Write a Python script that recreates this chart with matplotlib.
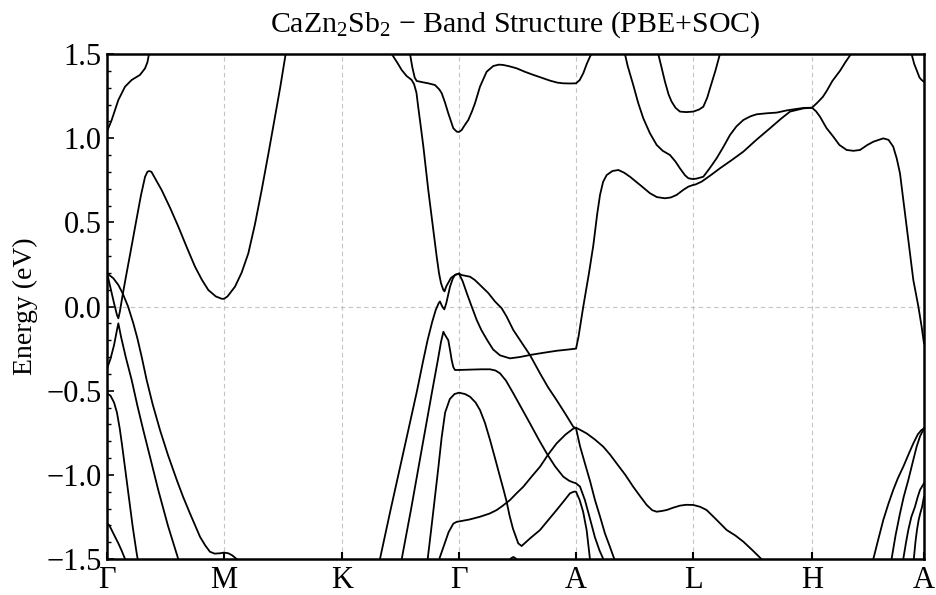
import matplotlib
matplotlib.use("Agg")
import numpy as np
import matplotlib.pyplot as plt
from matplotlib.ticker import MultipleLocator

# high-symmetry path
kpath_labels = ["Γ", "M", "K", "Γ", "A", "L", "H", "A"]
kpath_pos = [0.0, 1.0, 2.009, 3.009, 4.009, 5.009, 6.026, 6.983]

# bands, (k, E [eV])
band_gm_upper = [(0.0, 1.04), (0.006, 1.05), (0.04, 1.108), (0.097, 1.227), (0.154, 1.306),
                 (0.211, 1.346), (0.282, 1.376), (0.325, 1.415), (0.345, 1.45), (0.359, 1.5)]

band_gm_cb = [(0.0, 0.20), (0.03, 0.11), (0.06, 0.02), (0.085, -0.05), (0.097, -0.07),
              (0.11, -0.03), (0.134, 0.07), (0.16, 0.17), (0.2, 0.32), (0.25, 0.51),
              (0.29, 0.66), (0.325, 0.77), (0.345, 0.80), (0.36, 0.805), (0.38, 0.80),
              (0.42, 0.75), (0.467, 0.692), (0.54, 0.585), (0.61, 0.474), (0.68, 0.355),
              (0.752, 0.237), (0.81, 0.16), (0.866, 0.098), (0.93, 0.06), (0.98, 0.046),
              (1.0, 0.046), (1.03, 0.06), (1.094, 0.118), (1.15, 0.20), (1.208, 0.316),
              (1.265, 0.49), (1.322, 0.692), (1.38, 0.91), (1.436, 1.128), (1.48, 1.30),
              (1.527, 1.5)]

band_gm_hh = [(0.0, 0.197), (0.054, 0.168), (0.097, 0.128), (0.134, 0.078), (0.18, 0.0),
              (0.225, -0.10), (0.26, -0.19), (0.296, -0.298), (0.339, -0.437), (0.39, -0.58),
              (0.453, -0.734), (0.52, -0.88), (0.596, -1.03), (0.65, -1.13), (0.709, -1.229),
              (0.795, -1.368), (0.84, -1.42), (0.88, -1.457), (0.92, -1.468), (0.966, -1.466),
              (1.0, -1.462), (1.037, -1.466), (1.07, -1.478), (1.108, -1.5)]

band_gm_inv = [(0.0, -0.37), (0.03, -0.31), (0.06, -0.23), (0.085, -0.14), (0.097, -0.10),
               (0.12, -0.18), (0.16, -0.30), (0.211, -0.437), (0.26, -0.59), (0.31, -0.734),
               (0.37, -0.90), (0.438, -1.09), (0.52, -1.30), (0.609, -1.5)]

band_gm_so = [(0.0, -0.516), (0.03, -0.53), (0.06, -0.57), (0.085, -0.63), (0.11, -0.73),
              (0.13, -0.83), (0.16, -0.99), (0.19, -1.15), (0.22, -1.31), (0.25, -1.45),
              (0.262, -1.5)]

band_gm_low = [(0.0, -1.288), (0.02, -1.30), (0.04, -1.328), (0.07, -1.37), (0.097, -1.407),
               (0.125, -1.45), (0.154, -1.5)]

band_kg_cb1 = [(2.434, 1.5), (2.48, 1.45), (2.519, 1.405), (2.56, 1.37), (2.604, 1.346),
               (2.625, 1.32), (2.645, 1.27), (2.661, 1.18), (2.68, 1.08), (2.704, 0.95),
               (2.746, 0.692), (2.789, 0.455), (2.818, 0.296), (2.838, 0.197), (2.855, 0.138),
               (2.875, 0.098), (2.885, 0.09), (2.90, 0.12), (2.94, 0.17), (2.98, 0.19),
               (3.009, 0.195)]

band_kg_vb1 = [(2.333, -1.5), (2.42, -1.22), (2.5, -0.97), (2.58, -0.72), (2.65, -0.5),
               (2.70, -0.33), (2.74, -0.20), (2.78, -0.09), (2.81, -0.02), (2.835, 0.02),
               (2.846, 0.03), (2.865, 0.0), (2.883, -0.017), (2.90, 0.02), (2.932, 0.118),
               (2.955, 0.165), (2.974, 0.187), (3.009, 0.195)]

band_ga_top = [(2.59, 1.5), (2.61, 1.42), (2.63, 1.36), (2.647, 1.34), (2.70, 1.332),
               (2.746, 1.326), (2.803, 1.316), (2.84, 1.29), (2.861, 1.267), (2.89, 1.21),
               (2.917, 1.148), (2.96, 1.059), (2.989, 1.039), (3.009, 1.037), (3.032, 1.049),
               (3.06, 1.08), (3.088, 1.108), (3.12, 1.16), (3.145, 1.207), (3.188, 1.306),
               (3.216, 1.35), (3.245, 1.395), (3.302, 1.429), (3.35, 1.437), (3.387, 1.435),
               (3.44, 1.427), (3.502, 1.415), (3.57, 1.395), (3.644, 1.376), (3.72, 1.358),
               (3.786, 1.342), (3.85, 1.33), (3.9, 1.326), (3.96, 1.325), (4.009, 1.326),
               (4.04, 1.345), (4.071, 1.386), (4.1, 1.44), (4.128, 1.484), (4.14, 1.5)]

band_main = [(3.009, 0.195), (3.04, 0.15), (3.08, 0.07), (3.117, 0.0), (3.16, -0.08),
             (3.2, -0.14), (3.25, -0.2), (3.3, -0.255), (3.359, -0.29), (3.444, -0.308),
             (3.53, -0.30), (3.615, -0.288), (3.73, -0.275), (3.843, -0.263), (3.95, -0.255),
             (4.009, -0.25), (4.03, -0.18), (4.071, 0.0), (4.12, 0.2), (4.157, 0.365),
             (4.19, 0.55), (4.214, 0.663), (4.24, 0.74), (4.271, 0.781), (4.32, 0.805),
             (4.371, 0.811), (4.42, 0.795), (4.47, 0.771), (4.56, 0.72), (4.641, 0.673),
             (4.70, 0.65), (4.769, 0.643), (4.82, 0.648), (4.869, 0.663), (4.93, 0.695),
             (4.969, 0.712), (5.009, 0.722), (5.03, 0.725), (5.083, 0.742), (5.16, 0.78),
             (5.239, 0.821), (5.34, 0.87), (5.439, 0.92), (5.55, 0.99), (5.667, 1.059),
             (5.76, 1.115), (5.838, 1.158), (5.951, 1.177), (6.026, 1.181), (6.06, 1.16),
             (6.094, 1.128), (6.15, 1.06), (6.208, 1.009), (6.26, 0.96), (6.322, 0.93),
             (6.38, 0.925), (6.436, 0.93), (6.5, 0.96), (6.55, 0.979), (6.635, 0.999),
             (6.68, 0.99), (6.72, 0.95), (6.75, 0.88), (6.778, 0.791), (6.835, 0.474),
             (6.892, 0.157), (6.935, 0.0), (6.963, -0.12), (6.983, -0.219)]

band_ga_vb2 = [(3.009, 0.195), (3.032, 0.187), (3.103, 0.177), (3.145, 0.157), (3.2, 0.12),
               (3.259, 0.08), (3.316, 0.03), (3.373, -0.01), (3.416, -0.06), (3.473, -0.14),
               (3.54, -0.21), (3.615, -0.288), (3.701, -0.397), (3.77, -0.48), (3.843, -0.556),
               (3.92, -0.64), (3.985, -0.714), (4.009, -0.724), (4.043, -0.83), (4.085, -0.932),
               (4.13, -1.04), (4.171, -1.15), (4.215, -1.25), (4.256, -1.348), (4.3, -1.43),
               (4.336, -1.5)]

band_ga_vb3 = [(2.519, -1.5), (2.6, -1.2), (2.7, -0.81), (2.78, -0.50), (2.83, -0.31),
               (2.855, -0.21), (2.875, -0.15), (2.89, -0.17), (2.917, -0.2), (2.935, -0.27),
               (2.946, -0.318), (2.96, -0.36), (2.974, -0.377), (3.009, -0.377), (3.1, -0.375),
               (3.2, -0.373), (3.274, -0.373), (3.32, -0.38), (3.359, -0.397), (3.41, -0.44),
               (3.473, -0.516), (3.54, -0.60), (3.615, -0.694), (3.69, -0.79), (3.758, -0.872),
               (3.83, -0.95), (3.9, -1.011), (3.95, -1.035), (3.985, -1.045), (4.009, -1.05),
               (4.043, -1.07), (4.085, -1.15), (4.128, -1.26), (4.17, -1.37), (4.21, -1.45),
               (4.242, -1.5)]

band_ga_vb4 = [(2.741, -1.5), (2.77, -1.33), (2.80, -1.15), (2.83, -0.97), (2.86, -0.78),
               (2.89, -0.63), (2.93, -0.55), (2.97, -0.52), (3.009, -0.512), (3.06, -0.52),
               (3.103, -0.536), (3.15, -0.57), (3.188, -0.615), (3.23, -0.69), (3.274, -0.793),
               (3.32, -0.91), (3.359, -1.011), (3.39, -1.09), (3.416, -1.16), (3.44, -1.24),
               (3.47, -1.32), (3.515, -1.407), (3.544, -1.423), (3.58, -1.40), (3.62, -1.375),
               (3.701, -1.328), (3.77, -1.27), (3.843, -1.209), (3.9, -1.16), (3.957, -1.11),
               (3.99, -1.10), (4.009, -1.10), (4.04, -1.15), (4.07, -1.22), (4.1, -1.33),
               (4.128, -1.5)]

band_ga_vb5 = [(2.84, -1.5), (2.88, -1.42), (2.92, -1.34), (2.96, -1.29), (2.989, -1.279),
               (3.009, -1.277), (3.10, -1.265), (3.188, -1.249), (3.27, -1.23), (3.331, -1.209),
               (3.38, -1.185), (3.416, -1.165), (3.444, -1.15), (3.5, -1.11), (3.558, -1.071),
               (3.63, -1.01), (3.701, -0.952), (3.77, -0.88), (3.843, -0.813), (3.92, -0.76),
               (3.985, -0.726), (4.009, -0.72), (4.05, -0.735), (4.1, -0.754), (4.17, -0.79),
               (4.242, -0.833), (4.3, -0.88), (4.356, -0.932), (4.43, -1.00), (4.498, -1.071),
               (4.56, -1.13), (4.613, -1.179), (4.66, -1.21), (4.698, -1.219), (4.74, -1.215),
               (4.784, -1.209), (4.84, -1.195), (4.897, -1.183), (4.95, -1.178), (5.011, -1.179),
               (5.07, -1.19), (5.125, -1.209), (5.2, -1.26), (5.297, -1.328), (5.37, -1.36),
               (5.439, -1.397), (5.52, -1.45), (5.596, -1.502)]

band_ga_bump = [(3.44, -1.51), (3.455, -1.495), (3.473, -1.488), (3.49, -1.495), (3.51, -1.51)]

band_al_cb = [(4.427, 1.5), (4.45, 1.43), (4.498, 1.316), (4.54, 1.21), (4.584, 1.118),
              (4.64, 1.03), (4.698, 0.96), (4.75, 0.925), (4.812, 0.9), (4.86, 0.86),
              (4.897, 0.821), (4.94, 0.78), (4.969, 0.762), (5.009, 0.757), (5.04, 0.76),
              (5.097, 0.771), (5.15, 0.82), (5.211, 0.881), (5.27, 0.95), (5.325, 1.019),
              (5.38, 1.07), (5.439, 1.108), (5.5, 1.13), (5.553, 1.142), (5.64, 1.148),
              (5.724, 1.152), (5.81, 1.165), (5.895, 1.174), (5.96, 1.18), (6.026, 1.181),
              (6.07, 1.21), (6.118, 1.245), (6.151, 1.28), (6.2, 1.34), (6.265, 1.40),
              (6.31, 1.45), (6.359, 1.5)]

band_l_pocket = [(4.712, 1.5), (4.74, 1.42), (4.769, 1.336), (4.80, 1.26), (4.826, 1.217),
                 (4.86, 1.18), (4.897, 1.158), (4.95, 1.155), (5.011, 1.158), (5.06, 1.17),
                 (5.097, 1.187), (5.13, 1.24), (5.154, 1.296), (5.2, 1.40), (5.239, 1.5)]

band_ha_top = [(6.877, 1.5), (6.90, 1.44), (6.92, 1.405), (6.945, 1.36), (6.963, 1.346),
               (6.983, 1.335)]

band_ha_vb1 = [(6.55, -1.5), (6.59, -1.39), (6.635, -1.269), (6.68, -1.17), (6.72, -1.09),
               (6.76, -1.02), (6.806, -0.952), (6.85, -0.88), (6.892, -0.813), (6.93, -0.76),
               (6.96, -0.735), (6.983, -0.724)]
band_ha_vb2 = [(6.706, -1.5), (6.74, -1.36), (6.778, -1.229), (6.81, -1.13), (6.849, -1.031),
               (6.885, -0.93), (6.92, -0.833), (6.95, -0.77), (6.983, -0.724)]
band_ha_vb3 = [(6.806, -1.5), (6.83, -1.40), (6.849, -1.328), (6.875, -1.25), (6.906, -1.19),
               (6.93, -1.13), (6.949, -1.09), (6.97, -1.065), (6.983, -1.05)]
band_ha_vb4 = [(6.896, -1.5), (6.91, -1.40), (6.923, -1.328), (6.937, -1.27), (6.951, -1.229),
               (6.967, -1.19), (6.983, -1.13)]

bands = [band_gm_upper, band_gm_cb, band_gm_hh, band_gm_inv, band_gm_so, band_gm_low,
         band_kg_cb1, band_kg_vb1, band_ga_top, band_main, band_ga_vb2, band_ga_vb3,
         band_ga_vb4, band_ga_vb5, band_ga_bump, band_al_cb, band_l_pocket, band_ha_top,
         band_ha_vb1, band_ha_vb2, band_ha_vb3, band_ha_vb4]

e_min, e_max = -1.5, 1.5


def main():
    plt.rcParams["font.family"] = ["Liberation Serif", "DejaVu Serif"]
    plt.rcParams["mathtext.fontset"] = "custom"
    plt.rcParams["mathtext.rm"] = "Liberation Serif"
    plt.rcParams["mathtext.it"] = "Liberation Serif:italic"

    fig = plt.figure(figsize=(9.37, 5.95), dpi=100)
    ax = fig.add_axes([0.1142, 0.0605, 0.8719, 0.8487])

    # reference lines at the special points and at the Fermi level
    for x in kpath_pos[1:-1]:
        ax.axvline(x, color="#c4c4c4", lw=0.8, ls=(0, (4, 3)), zorder=1)
    ax.axhline(0.0, color="#c4c4c4", lw=0.8, ls=(0, (4, 3)), zorder=1)

    for band in bands:
        k, e = np.array(band).T
        ax.plot(k, e, color="black", lw=1.3, zorder=3, solid_joinstyle="round")

    ax.set_xlim(kpath_pos[0], kpath_pos[-1])
    ax.set_ylim(e_min, e_max)
    ax.set_xticks(kpath_pos)
    ax.set_xticklabels(kpath_labels)
    ax.yaxis.set_major_locator(MultipleLocator(0.5))
    ax.yaxis.set_minor_locator(MultipleLocator(0.1))
    ax.yaxis.set_major_formatter(lambda v, pos: f"{v:.1f}".replace("-", "\u2212"))

    ax.tick_params(axis="both", which="both", direction="in", labelsize=22)
    ax.tick_params(axis="x", length=5, width=1.5, pad=5)
    ax.tick_params(axis="y", which="major", length=5, width=1.2, pad=4)
    ax.tick_params(axis="y", which="minor", length=3, width=1.0)

    for s in ax.spines.values():
        s.set_linewidth(1.8)

    ax.set_ylabel("Energy (eV)", fontsize=20, labelpad=6)
    ax.set_title("CaZn$_2$Sb$_2$ \u2212 Band Structure (PBE+SOC)", fontsize=21.5, pad=16)

    fig.savefig("out.png", dpi=100)
    plt.close(fig)
    print("[INFO] Saved out.png")


if __name__ == "__main__":
    main()
